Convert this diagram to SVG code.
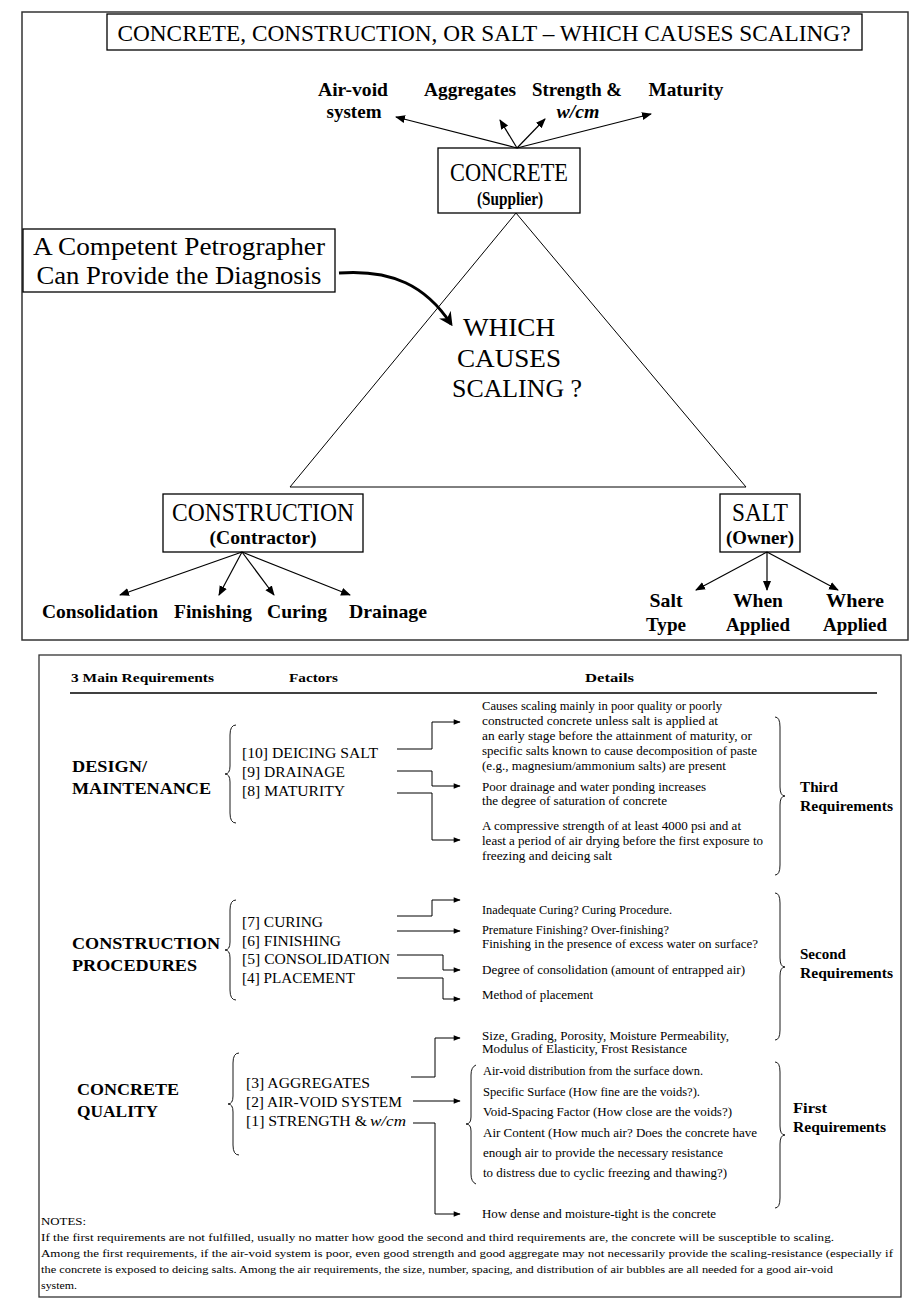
<svg xmlns="http://www.w3.org/2000/svg" width="918" height="1310" viewBox="0 0 918 1310" font-family="'Liberation Serif', 'DejaVu Serif', serif">
<style>
.bx{fill:#fff;stroke:#000;stroke-width:1.3}
.ln{fill:none;stroke:#000;stroke-width:1.2}
.tn{fill:none;stroke:#000;stroke-width:1}
.br{fill:none;stroke:#000;stroke-width:0.9}
text{font-family:'Liberation Serif','DejaVu Serif',serif;fill:#000}
.tb{font-weight:bold;font-size:19px}
.big{font-size:25px}
.mid{font-size:18px;font-weight:bold}
.hd{font-size:13.5px;font-weight:bold}
.req{font-size:17px;font-weight:bold}
.fac{font-size:14.5px}
.det{font-size:11.8px}
.rq{font-size:14px;font-weight:bold}
.nt{font-size:11px}
</style>
<defs>
<marker id="ah" viewBox="0 0 10 10" refX="9" refY="5" markerWidth="10" markerHeight="10" markerUnits="userSpaceOnUse" orient="auto">
<path d="M0,1 L10,5 L0,9 Z" fill="#000"/>
</marker>
<marker id="sa" viewBox="0 0 10 10" refX="9" refY="5" markerWidth="9" markerHeight="7" markerUnits="userSpaceOnUse" orient="auto">
<path d="M0,1 L10,5 L0,9 Z" fill="#000"/>
</marker>
<marker id="ca" viewBox="0 0 10 10" refX="8" refY="5" markerWidth="14" markerHeight="14" markerUnits="userSpaceOnUse" orient="auto">
<path d="M0,0 L10,5 L0,10 L3,5 Z" fill="#000"/>
</marker>
</defs>

<!-- top panel frame -->
<rect x="22" y="12" width="886" height="628" fill="#fff" stroke="#333" stroke-width="1.5"/>

<g id="title">
<rect class="bx" x="107" y="14" width="755" height="36"/>
<text x="484" y="41" font-size="23" text-anchor="middle" textLength="733" lengthAdjust="spacingAndGlyphs">CONCRETE, CONSTRUCTION, OR SALT – WHICH CAUSES SCALING?</text>
</g>

<g id="concrete-factors">
<text class="tb" x="353" y="96" text-anchor="middle" textLength="70" lengthAdjust="spacingAndGlyphs">Air-void</text>
<text class="tb" x="354" y="118" text-anchor="middle" textLength="55" lengthAdjust="spacingAndGlyphs">system</text>
<text class="tb" x="470" y="96" text-anchor="middle" textLength="92" lengthAdjust="spacingAndGlyphs">Aggregates</text>
<text class="tb" x="577" y="96" text-anchor="middle" textLength="90" lengthAdjust="spacingAndGlyphs">Strength &amp;</text>
<text class="tb" x="578" y="118" text-anchor="middle" font-style="italic" textLength="43" lengthAdjust="spacingAndGlyphs">w/cm</text>
<text class="tb" x="686" y="96" text-anchor="middle" textLength="75" lengthAdjust="spacingAndGlyphs">Maturity</text>
</g>

<g id="concrete">
<rect class="bx" x="438" y="148" width="142" height="65"/>
<text class="big" x="509" y="181" text-anchor="middle" textLength="118" lengthAdjust="spacingAndGlyphs">CONCRETE</text>
<text class="mid" x="510" y="205" text-anchor="middle" textLength="66" lengthAdjust="spacingAndGlyphs">(Supplier)</text>
</g>

<g id="triangle">
<path class="tn" d="M516,213 L290,487 L746,487 Z"/>
<text class="big" x="509" y="336" text-anchor="middle" textLength="92" lengthAdjust="spacingAndGlyphs">WHICH</text>
<text class="big" x="509" y="367" text-anchor="middle" textLength="104" lengthAdjust="spacingAndGlyphs">CAUSES</text>
<text class="big" x="517" y="397" text-anchor="middle" textLength="130" lengthAdjust="spacingAndGlyphs">SCALING ?</text>
</g>

<g id="petrographer">
<rect class="bx" x="23" y="229" width="312" height="63"/>
<text class="big" x="179" y="255" font-size="26" text-anchor="middle" textLength="292" lengthAdjust="spacingAndGlyphs">A Competent Petrographer</text>
<text class="big" x="179" y="284" font-size="26" text-anchor="middle" textLength="285" lengthAdjust="spacingAndGlyphs">Can Provide the Diagnosis</text>
</g>

<g id="construction">
<rect class="bx" x="163" y="494" width="200" height="58"/>
<text class="big" x="263" y="521" text-anchor="middle" textLength="182" lengthAdjust="spacingAndGlyphs">CONSTRUCTION</text>
<text class="mid" x="263" y="544" text-anchor="middle" textLength="107" lengthAdjust="spacingAndGlyphs">(Contractor)</text>
</g>

<g id="salt">
<rect class="bx" x="720" y="494" width="80" height="58"/>
<text class="big" x="760" y="521" text-anchor="middle" textLength="56" lengthAdjust="spacingAndGlyphs">SALT</text>
<text class="mid" x="760" y="544" text-anchor="middle" textLength="68" lengthAdjust="spacingAndGlyphs">(Owner)</text>
</g>

<g id="construction-factors">
<text class="tb" x="100" y="618" text-anchor="middle" textLength="116" lengthAdjust="spacingAndGlyphs">Consolidation</text>
<text class="tb" x="213" y="618" text-anchor="middle" textLength="78" lengthAdjust="spacingAndGlyphs">Finishing</text>
<text class="tb" x="297" y="618" text-anchor="middle" textLength="60" lengthAdjust="spacingAndGlyphs">Curing</text>
<text class="tb" x="388" y="618" text-anchor="middle" textLength="78" lengthAdjust="spacingAndGlyphs">Drainage</text>
</g>

<g id="salt-factors">
<text class="tb" x="666" y="607" text-anchor="middle" textLength="33" lengthAdjust="spacingAndGlyphs">Salt</text>
<text class="tb" x="666" y="631" text-anchor="middle" textLength="40" lengthAdjust="spacingAndGlyphs">Type</text>
<text class="tb" x="758" y="607" text-anchor="middle" textLength="50" lengthAdjust="spacingAndGlyphs">When</text>
<text class="tb" x="758" y="631" text-anchor="middle" textLength="64" lengthAdjust="spacingAndGlyphs">Applied</text>
<text class="tb" x="855" y="607" text-anchor="middle" textLength="58" lengthAdjust="spacingAndGlyphs">Where</text>
<text class="tb" x="855" y="631" text-anchor="middle" textLength="64" lengthAdjust="spacingAndGlyphs">Applied</text>
</g>

<g id="top-connectors">
<line class="ln" x1="517" y1="148" x2="396" y2="117" marker-end="url(#ah)"/>
<line class="ln" x1="517" y1="148" x2="500" y2="120" marker-end="url(#ah)"/>
<line class="ln" x1="517" y1="148" x2="545" y2="119" marker-end="url(#ah)"/>
<line class="ln" x1="517" y1="148" x2="651" y2="114" marker-end="url(#ah)"/>
<line class="ln" x1="242" y1="552" x2="120" y2="595" marker-end="url(#ah)"/>
<line class="ln" x1="242" y1="552" x2="219" y2="595" marker-end="url(#ah)"/>
<line class="ln" x1="242" y1="552" x2="274" y2="595" marker-end="url(#ah)"/>
<line class="ln" x1="242" y1="552" x2="350" y2="595" marker-end="url(#ah)"/>
<line class="ln" x1="767" y1="552" x2="696" y2="590" marker-end="url(#ah)"/>
<line class="ln" x1="767" y1="552" x2="767" y2="590" marker-end="url(#ah)"/>
<line class="ln" x1="767" y1="552" x2="838" y2="590" marker-end="url(#ah)"/>
<path d="M339,273 C392,269 426,286 451,324" fill="none" stroke="#000" stroke-width="3" marker-end="url(#ca)"/>
</g>

<!-- lower panel frame -->
<rect x="39" y="655" width="862" height="642" fill="#fff" stroke="#333" stroke-width="1.3"/>

<g id="header">
<text class="hd" x="71" y="682" textLength="143" lengthAdjust="spacingAndGlyphs">3 Main Requirements</text>
<text class="hd" x="289" y="682" textLength="49" lengthAdjust="spacingAndGlyphs">Factors</text>
<text class="hd" x="585" y="682" textLength="49" lengthAdjust="spacingAndGlyphs">Details</text>
<line x1="70" y1="693" x2="877" y2="693" stroke="#000" stroke-width="1.3"/>
</g>

<g id="design">
<text class="req" x="72" y="772" textLength="75" lengthAdjust="spacingAndGlyphs">DESIGN/</text>
<text class="req" x="72" y="794" textLength="139" lengthAdjust="spacingAndGlyphs">MAINTENANCE</text>
<path class="br" d="M236,725 Q230,725 230,735 L230,766 Q230,774 225,774 Q230,774 230,782 L230,813 Q230,823 236,823"/>
<text class="fac" x="242" y="758" textLength="136" lengthAdjust="spacingAndGlyphs">[10] DEICING SALT</text>
<text class="fac" x="242" y="777" textLength="103" lengthAdjust="spacingAndGlyphs">[9] DRAINAGE</text>
<text class="fac" x="242" y="796" textLength="103" lengthAdjust="spacingAndGlyphs">[8] MATURITY</text>
</g>

<g id="design-details">
<text class="det" x="482" y="710" textLength="240" lengthAdjust="spacingAndGlyphs">Causes scaling mainly in poor quality or poorly</text>
<text class="det" x="482" y="725" textLength="236" lengthAdjust="spacingAndGlyphs">constructed concrete unless salt is applied at</text>
<text class="det" x="482" y="740" textLength="270" lengthAdjust="spacingAndGlyphs">an early stage before the attainment of maturity, or</text>
<text class="det" x="482" y="755" textLength="275" lengthAdjust="spacingAndGlyphs">specific salts known to cause decomposition of paste</text>
<text class="det" x="482" y="770" textLength="244" lengthAdjust="spacingAndGlyphs">(e.g., magnesium/ammonium salts) are present</text>
<text class="det" x="482" y="791" textLength="224" lengthAdjust="spacingAndGlyphs">Poor drainage and water ponding increases</text>
<text class="det" x="482" y="805" textLength="185" lengthAdjust="spacingAndGlyphs">the degree of saturation of concrete</text>
<text class="det" x="482" y="830" textLength="259" lengthAdjust="spacingAndGlyphs">A compressive strength of at least 4000 psi and at</text>
<text class="det" x="482" y="845" textLength="281" lengthAdjust="spacingAndGlyphs">least a period of air drying before the first exposure to</text>
<text class="det" x="482" y="860" textLength="130" lengthAdjust="spacingAndGlyphs">freezing and deicing salt</text>
<path class="br" d="M775,717 Q780,717 780,727 L780,787 Q780,796 785,796 Q780,796 780,805 L780,865 Q780,875 775,875"/>
<text class="rq" x="800" y="792" textLength="38" lengthAdjust="spacingAndGlyphs">Third</text>
<text class="rq" x="800" y="811" textLength="93" lengthAdjust="spacingAndGlyphs">Requirements</text>
</g>

<g id="construction-proc">
<text class="req" x="72" y="949" textLength="148" lengthAdjust="spacingAndGlyphs">CONSTRUCTION</text>
<text class="req" x="72" y="971" textLength="125" lengthAdjust="spacingAndGlyphs">PROCEDURES</text>
<path class="br" d="M236,900 Q230,900 230,910 L230,942 Q230,950 225,950 Q230,950 230,958 L230,990 Q230,1000 236,1000"/>
<text class="fac" x="242" y="927" textLength="81" lengthAdjust="spacingAndGlyphs">[7] CURING</text>
<text class="fac" x="242" y="946" textLength="99" lengthAdjust="spacingAndGlyphs">[6] FINISHING</text>
<text class="fac" x="242" y="964" textLength="148" lengthAdjust="spacingAndGlyphs">[5] CONSOLIDATION</text>
<text class="fac" x="242" y="983" textLength="113" lengthAdjust="spacingAndGlyphs">[4] PLACEMENT</text>
</g>

<g id="construction-details">
<text class="det" x="482" y="914" textLength="190" lengthAdjust="spacingAndGlyphs">Inadequate Curing? Curing Procedure.</text>
<text class="det" x="482" y="934" textLength="187" lengthAdjust="spacingAndGlyphs">Premature Finishing? Over-finishing?</text>
<text class="det" x="482" y="948" textLength="276" lengthAdjust="spacingAndGlyphs">Finishing in the presence of excess water on surface?</text>
<text class="det" x="482" y="974" textLength="263" lengthAdjust="spacingAndGlyphs">Degree of consolidation (amount of entrapped air)</text>
<text class="det" x="482" y="999" textLength="111" lengthAdjust="spacingAndGlyphs">Method of placement</text>
<path class="br" d="M775,893 Q780,893 780,903 L780,958 Q780,967 785,967 Q780,967 780,976 L780,1030 Q780,1040 775,1040"/>
<text class="rq" x="800" y="959" textLength="46" lengthAdjust="spacingAndGlyphs">Second</text>
<text class="rq" x="800" y="978" textLength="93" lengthAdjust="spacingAndGlyphs">Requirements</text>
</g>

<g id="concrete-quality">
<text class="req" x="77" y="1095" textLength="102" lengthAdjust="spacingAndGlyphs">CONCRETE</text>
<text class="req" x="77" y="1117" textLength="81" lengthAdjust="spacingAndGlyphs">QUALITY</text>
<path class="br" d="M239,1053 Q233,1053 233,1063 L233,1096 Q233,1104 228,1104 Q233,1104 233,1112 L233,1145 Q233,1155 239,1155"/>
<text class="fac" x="246" y="1088" textLength="124" lengthAdjust="spacingAndGlyphs">[3] AGGREGATES</text>
<text class="fac" x="246" y="1107" textLength="156" lengthAdjust="spacingAndGlyphs">[2] AIR-VOID SYSTEM</text>
<text class="fac" x="246" y="1126" textLength="121" lengthAdjust="spacingAndGlyphs">[1] STRENGTH &amp; </text>
<text class="fac" x="370" y="1126" font-style="italic" textLength="36" lengthAdjust="spacingAndGlyphs">w/cm</text>
</g>

<g id="quality-details">
<text class="det" x="482" y="1040" textLength="247" lengthAdjust="spacingAndGlyphs">Size, Grading, Porosity, Moisture Permeability,</text>
<text class="det" x="482" y="1053" textLength="205" lengthAdjust="spacingAndGlyphs">Modulus of Elasticity, Frost Resistance</text>
<path class="br" d="M476,1065 Q471,1067 471,1075 L471,1117 Q471,1124 466,1124 Q471,1124 471,1131 L471,1174 Q471,1182 476,1184"/>
<text class="det" x="483" y="1075" textLength="220" lengthAdjust="spacingAndGlyphs">Air-void distribution from the surface down.</text>
<text class="det" x="483" y="1096" textLength="217" lengthAdjust="spacingAndGlyphs">Specific Surface (How fine are the voids?).</text>
<text class="det" x="483" y="1116" textLength="249" lengthAdjust="spacingAndGlyphs">Void-Spacing Factor (How close are the voids?)</text>
<text class="det" x="483" y="1137" textLength="274" lengthAdjust="spacingAndGlyphs">Air Content (How much air? Does the concrete have</text>
<text class="det" x="483" y="1157" textLength="240" lengthAdjust="spacingAndGlyphs">enough air to provide the necessary resistance</text>
<text class="det" x="483" y="1177" textLength="244" lengthAdjust="spacingAndGlyphs">to distress due to cyclic freezing and thawing?)</text>
<text class="det" x="482" y="1218" textLength="234" lengthAdjust="spacingAndGlyphs">How dense and moisture-tight is the concrete</text>
<path class="br" d="M775,1062 Q780,1062 780,1072 L780,1126 Q780,1135 785,1135 Q780,1135 780,1144 L780,1198 Q780,1208 775,1208"/>
<text class="rq" x="793" y="1113" textLength="34" lengthAdjust="spacingAndGlyphs">First</text>
<text class="rq" x="793" y="1132" textLength="93" lengthAdjust="spacingAndGlyphs">Requirements</text>
</g>

<g id="lower-connectors">
<polyline class="tn" points="397,749 432,749 432,722 460,722" marker-end="url(#sa)"/>
<polyline class="tn" points="397,771 432,771 432,786 460,786" marker-end="url(#sa)"/>
<polyline class="tn" points="397,793 432,793 432,840 460,840" marker-end="url(#sa)"/>
<polyline class="tn" points="397,916 432,916 432,900 460,900" marker-end="url(#sa)"/>
<polyline class="tn" points="397,931 460,931" marker-end="url(#sa)"/>
<polyline class="tn" points="397,955 443,955 443,970 460,970" marker-end="url(#sa)"/>
<polyline class="tn" points="397,978 443,978 443,999 460,999" marker-end="url(#sa)"/>
<polyline class="tn" points="411,1077 435,1077 435,1038 460,1038" marker-end="url(#sa)"/>
<polyline class="tn" points="413,1101 460,1101" marker-end="url(#sa)"/>
<polyline class="tn" points="413,1123 435,1123 435,1214 460,1214" marker-end="url(#sa)"/>
</g>

<g id="notes">
<text class="nt" x="41" y="1225" textLength="45" lengthAdjust="spacingAndGlyphs">NOTES:</text>
<text class="nt" x="41" y="1241" textLength="793" lengthAdjust="spacingAndGlyphs">If the first requirements are not fulfilled, usually no matter how good the second and third requirements are, the concrete will be susceptible to scaling.</text>
<text class="nt" x="41" y="1257" textLength="852" lengthAdjust="spacingAndGlyphs">Among the first requirements, if the air-void system is poor, even good strength and good aggregate may not necessarily provide the scaling-resistance (especially if</text>
<text class="nt" x="41" y="1273" textLength="792" lengthAdjust="spacingAndGlyphs">the concrete is exposed to deicing salts.  Among the air requirements, the size, number, spacing, and distribution of air bubbles are all needed for a good air-void</text>
<text class="nt" x="41" y="1289" textLength="36" lengthAdjust="spacingAndGlyphs">system.</text>
</g>
</svg>
